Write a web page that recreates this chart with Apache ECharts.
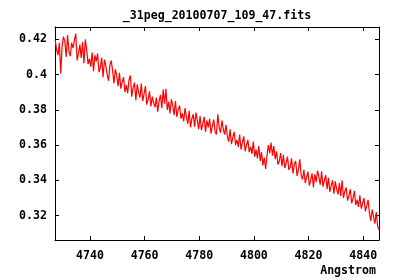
<!DOCTYPE html>
<html>
<head>
<meta charset="utf-8">
<script src="https://cdn.jsdelivr.net/npm/echarts@6/dist/echarts.min.js"></script>
<style>
html,body{margin:0;padding:0;background:#fff;}
#spectrum{width:400px;height:280px;}
</style>
</head>
<body>
<div id="spectrum"></div>
<script>
// wavelength grid of the spectrum (Angstrom)
var waveStart = 4727.3;
var waveStep = 0.5;
// flux values, one per grid step
var fluxValues = [
	0.4195, 0.4140, 0.4110, 0.4180, 0.4005, 0.4160, 0.4215, 0.4190, 0.4100, 0.4225,
	0.4130, 0.4105, 0.4180, 0.4150, 0.4195, 0.4232, 0.4080, 0.4120, 0.4170, 0.4095,
	0.4185, 0.4065, 0.4200, 0.4140, 0.4060, 0.4090, 0.4045, 0.4125, 0.4020, 0.4110,
	0.4075, 0.4120, 0.4015, 0.4040, 0.4095, 0.3985, 0.4085, 0.4050, 0.4000, 0.3965,
	0.4055, 0.4080, 0.4020, 0.3950, 0.4030, 0.3995, 0.3935, 0.4010, 0.3920, 0.3960,
	0.3985, 0.3900, 0.3940, 0.3895, 0.3970, 0.3995, 0.3875, 0.3925, 0.3955, 0.3855,
	0.3945, 0.3900, 0.3870, 0.3950, 0.3850, 0.3890, 0.3935, 0.3830, 0.3860, 0.3905,
	0.3820, 0.3875, 0.3840, 0.3815, 0.3870, 0.3790, 0.3850, 0.3885, 0.3810, 0.3915,
	0.3835, 0.3920, 0.3800, 0.3845, 0.3780, 0.3860, 0.3825, 0.3770, 0.3850, 0.3760,
	0.3800, 0.3825, 0.3750, 0.3780, 0.3735, 0.3810, 0.3760, 0.3720, 0.3795, 0.3700,
	0.3750, 0.3775, 0.3705, 0.3785, 0.3740, 0.3690, 0.3765, 0.3685, 0.3720, 0.3760,
	0.3675, 0.3740, 0.3700, 0.3750, 0.3665, 0.3710, 0.3745, 0.3675, 0.3660, 0.3775,
	0.3700, 0.3670, 0.3740, 0.3690, 0.3660, 0.3715, 0.3650, 0.3620, 0.3690, 0.3605,
	0.3645, 0.3675, 0.3600, 0.3630, 0.3590, 0.3660, 0.3575, 0.3615, 0.3650, 0.3565,
	0.3600, 0.3630, 0.3560, 0.3590, 0.3550, 0.3620, 0.3535, 0.3575, 0.3525, 0.3595,
	0.3510, 0.3560, 0.3485, 0.3530, 0.3465, 0.3540, 0.3600, 0.3555, 0.3615, 0.3540,
	0.3595, 0.3520, 0.3565, 0.3490, 0.3510, 0.3555, 0.3480, 0.3545, 0.3470, 0.3500,
	0.3535, 0.3460, 0.3475, 0.3525, 0.3440, 0.3490, 0.3510, 0.3425, 0.3460, 0.3520,
	0.3430, 0.3405, 0.3460, 0.3385, 0.3420, 0.3450, 0.3370, 0.3400, 0.3440, 0.3360,
	0.3435, 0.3390, 0.3455, 0.3420, 0.3375, 0.3450, 0.3365, 0.3400, 0.3430, 0.3350,
	0.3415, 0.3335, 0.3370, 0.3400, 0.3325, 0.3395, 0.3350, 0.3320, 0.3385, 0.3310,
	0.3400, 0.3300, 0.3340, 0.3360, 0.3285, 0.3315, 0.3350, 0.3270, 0.3300, 0.3340,
	0.3260, 0.3290, 0.3250, 0.3315, 0.3240, 0.3270, 0.3300, 0.3225, 0.3255, 0.3290,
	0.3215, 0.3170, 0.3235, 0.3195, 0.3155, 0.3220, 0.3140, 0.3120
];
var xTicks = [4740, 4760, 4780, 4800, 4820, 4840];
var yTicks = [0.32, 0.34, 0.36, 0.38, 0.40, 0.42];

var fontName = '"DejaVu Sans Mono", "Liberation Mono", monospace';

function buildSeries() {
	var pts = [];
	for (var i = 0; i < fluxValues.length; i++) {
		pts.push([waveStart + i * waveStep, fluxValues[i]]);
	}
	return pts;
}

var myChart = echarts.init(document.getElementById('spectrum'));
var lbl = {color: '#000', fontFamily: fontName, fontWeight: 'bold', fontSize: 11.6};
var option = {
	animation: false,
	backgroundColor: '#fff',
	grid: {left: 55, right: 21, top: 27, bottom: 40},
	graphic: [
		{type: 'text', x: 217, y: 16, style: {text: '_31peg_20100707_109_47.fits', textAlign: 'center', textVerticalAlign: 'middle', fill: '#000', font: 'bold 11.6px ' + fontName}},
		{type: 'text', x: 376, y: 271, style: {text: 'Angstrom', textAlign: 'right', textVerticalAlign: 'middle', fill: '#000', font: 'bold 11.6px ' + fontName}}
	],
	xAxis: [{
		type: 'value', min: 4727.2, max: 4845.8, position: 'bottom',
		axisLine: {show: true, lineStyle: {color: '#000', width: 1}},
		axisTick: {show: true, inside: true, length: 4, customValues: xTicks, lineStyle: {color: '#000'}},
		axisLabel: Object.assign({customValues: xTicks, margin: 10, formatter: function (v) { return String(v); }}, lbl),
		splitLine: {show: false}
	}, {
		type: 'value', min: 4727.2, max: 4845.8, position: 'top',
		axisLine: {show: true, lineStyle: {color: '#000', width: 1}},
		axisTick: {show: true, inside: true, length: 4, customValues: xTicks, lineStyle: {color: '#000'}},
		axisLabel: {show: false},
		splitLine: {show: false}
	}],
	yAxis: [{
		type: 'value', min: 0.3062, max: 0.427, position: 'left',
		axisLine: {show: true, lineStyle: {color: '#000', width: 1}},
		axisTick: {show: true, inside: true, length: 4, customValues: yTicks, lineStyle: {color: '#000'}},
		axisLabel: Object.assign({customValues: yTicks, margin: 8, formatter: function (v) { return String(+v.toFixed(2)); }}, lbl),
		splitLine: {show: false}
	}, {
		type: 'value', min: 0.3062, max: 0.427, position: 'right',
		axisLine: {show: true, lineStyle: {color: '#000', width: 1}},
		axisTick: {show: true, inside: true, length: 4, customValues: yTicks, lineStyle: {color: '#000'}},
		axisLabel: {show: false},
		splitLine: {show: false}
	}],
	series: [{
		type: 'line',
		data: buildSeries(),
		showSymbol: false,
		symbol: 'none',
		sampling: null,
		lineStyle: {color: '#ff0000', width: 1.2},
		clip: true
	}]
};
myChart.setOption(option, true);
</script>
</body>
</html>
